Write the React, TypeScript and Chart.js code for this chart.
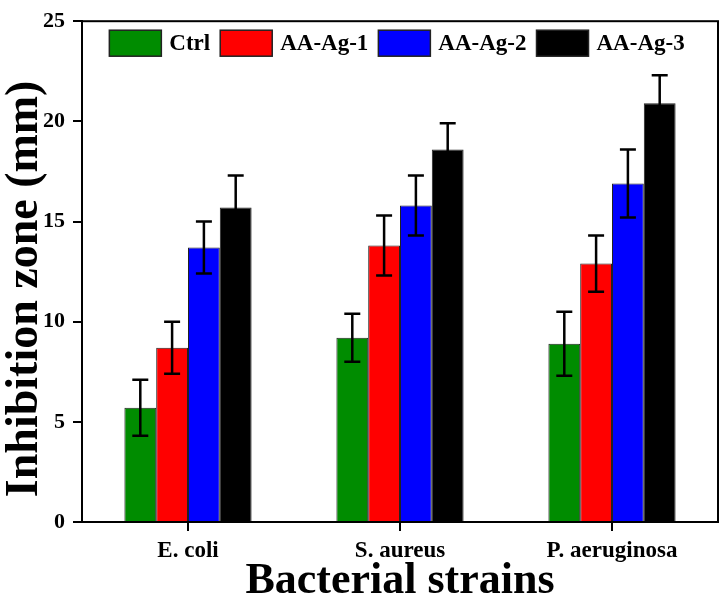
import React, { useEffect, useRef } from "react";
import { Chart, registerables } from "chart.js";

Chart.register(...registerables);

const categories = ["E. coli", "S. aureus", "P. aeruginosa"];
const seriesNames = ["Ctrl", "AA-Ag-1", "AA-Ag-2", "AA-Ag-3"];
const ctrlValues = [5.7, 9.2, 8.9];
const ag1Values = [8.7, 13.8, 12.9];
const ag2Values = [13.7, 15.8, 16.9];
const ag3Values = [15.7, 18.6, 20.9];
const ctrlErrors = [1.4, 1.2, 1.6];
const ag1Errors = [1.3, 1.5, 1.4];
const ag2Errors = [1.3, 1.5, 1.7];
const ag3Errors = [1.6, 1.3, 1.4];
const seriesColors = ["#008C00", "#FF0000", "#0000FF", "#000000"];
const yTicks = [0, 5, 10, 15, 20, 25];

const FONT = "'Liberation Serif', 'Times New Roman', serif";

const errorBarPlugin = {
  id: "errorBars",
  afterDatasetsDraw(chart: any) {
    const ctx = chart.ctx;
    const yScale = chart.scales.y;
    ctx.save();
    ctx.strokeStyle = "#000";
    ctx.lineWidth = 2.5;
    chart.data.datasets.forEach((ds: any, di: number) => {
      const meta = chart.getDatasetMeta(di);
      meta.data.forEach((bar: any, i: number) => {
        const v = ds.data[i];
        const e = ds.errors[i];
        const x = bar.x;
        const yt = yScale.getPixelForValue(v + e);
        const yb = yScale.getPixelForValue(v - e);
        const cap = 8;
        ctx.beginPath();
        ctx.moveTo(x, yt);
        ctx.lineTo(x, yb);
        ctx.moveTo(x - cap, yt);
        ctx.lineTo(x + cap, yt);
        ctx.moveTo(x - cap, yb);
        ctx.lineTo(x + cap, yb);
        ctx.stroke();
      });
    });
    ctx.restore();
  },
};

const framePlugin = {
  id: "frame",
  afterDraw(chart: any) {
    const { ctx, chartArea } = chart;
    ctx.save();
    ctx.strokeStyle = "#000";
    ctx.lineWidth = 2;
    ctx.strokeRect(chartArea.left, chartArea.top, chartArea.right - chartArea.left, chartArea.bottom - chartArea.top);
    ctx.restore();
  },
};

const insideLegendPlugin = {
  id: "insideLegend",
  afterDraw(chart: any) {
    const { ctx, chartArea } = chart;
    const boxW = 52;
    const boxH = 26;
    const gapText = 8;
    const gapItem = 10;
    ctx.save();
    ctx.font = `bold 23px ${FONT}`;
    const items = chart.data.datasets.map((ds: any) => ({
      label: ds.label,
      color: ds.backgroundColor,
      tw: ctx.measureText(ds.label).width,
    }));
    const total = items.reduce((s: number, it: any) => s + boxW + gapText + it.tw, 0) + gapItem * (items.length - 1);
    let x = (chartArea.left + chartArea.right) / 2 - 3 - total / 2;
    const top = chartArea.top + 9;
    ctx.textBaseline = "middle";
    ctx.textAlign = "left";
    items.forEach((it: any) => {
      ctx.fillStyle = it.color;
      ctx.fillRect(x, top, boxW, boxH);
      ctx.strokeStyle = "#222";
      ctx.lineWidth = 1.5;
      ctx.strokeRect(x, top, boxW, boxH);
      ctx.fillStyle = "#000";
      ctx.fillText(it.label, x + boxW + gapText, top + boxH / 2 + 1);
      x += boxW + gapText + it.tw + gapItem;
    });
    ctx.restore();
  },
};

export default function App() {
  const ref = useRef<HTMLCanvasElement | null>(null);
  useEffect(() => {
    if (!ref.current) return;
    const values = [ctrlValues, ag1Values, ag2Values, ag3Values];
    const errors = [ctrlErrors, ag1Errors, ag2Errors, ag3Errors];
    const chart = new Chart(ref.current, {
      type: "bar",
      data: {
        labels: categories,
        datasets: seriesNames.map((name, i) => ({
          label: name,
          data: values[i],
          errors: errors[i],
          backgroundColor: seriesColors[i],
          borderColor: "#222",
          borderWidth: 1,
          categoryPercentage: 0.6,
          barPercentage: 1.0,
        })) as any,
      },
      options: {
        animation: false,
        responsive: false,
        layout: { padding: { top: 10, right: 4, left: 0, bottom: 0 } },
        plugins: {
          tooltip: { enabled: false },
          legend: { display: false },
        },
        scales: {
          x: {
            afterFit: (s: any) => { s.height = 77; },
            grid: { display: true, drawOnChartArea: false, drawTicks: true, tickLength: 9, color: "#000", lineWidth: 2, offset: false },
            border: { display: true, color: "#000", width: 2 },
            ticks: { color: "#000", padding: 6, font: { family: FONT, size: 23, weight: "bold" } },
            title: {
              display: true,
              text: "Bacterial strains",
              color: "#000",
              padding: 0,
              font: { family: FONT, size: 44, weight: "bold", lineHeight: 0.8 },
            },
          },
          y: {
            min: 0,
            max: 25,
            afterFit: (s: any) => { s.width = 82; },
            afterBuildTicks: (s: any) => { s.ticks = yTicks.map((v) => ({ value: v })); },
            grid: { display: true, drawOnChartArea: false, drawTicks: true, tickLength: 9, color: "#000", lineWidth: 2 },
            border: { display: true, color: "#000", width: 2 },
            ticks: { color: "#000", padding: 8, font: { family: FONT, size: 22, weight: "bold" } },
            title: {
              display: true,
              text: "Inhibition zone (mm)   ",
              color: "#000",
              padding: { top: 1, bottom: 0 },
              font: { family: FONT, size: 46, weight: "bold", lineHeight: 1.05 },
            },
          },
        },
      },
      plugins: [errorBarPlugin, framePlugin, insideLegendPlugin],
    });
    return () => chart.destroy();
  }, []);
  return (
    <div style={{ position: "fixed", left: 0, top: 0, width: 722, height: 599, background: "#fff" }}>
      <canvas ref={ref} width={722} height={599} style={{ width: 722, height: 599, display: "block" }} />
    </div>
  );
}
